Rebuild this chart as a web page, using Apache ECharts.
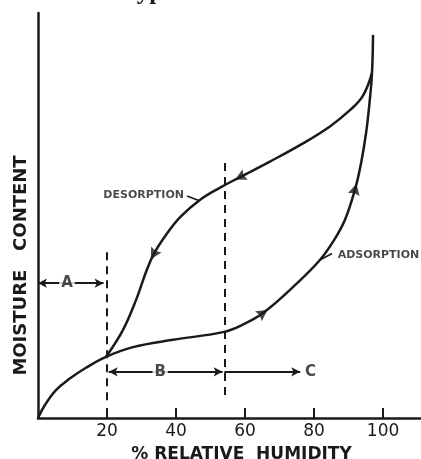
<!DOCTYPE html>
<html>
<head>
<meta charset="utf-8">
<script src="https://cdn.jsdelivr.net/npm/echarts@6/dist/echarts.min.js"></script>
<style>
  html, body { margin: 0; padding: 0; background: #fff; }
  #chart { width: 421px; height: 459px; }
</style>
</head>
<body>
<div id="chart"></div>
<script>
// Relative humidity (%) tick labels
const rhTicks = [20, 40, 60, 80, 100];

// Adsorption branch: relative humidity (%) and moisture content (relative units)
const adsorptionRH = [0, 2.0, 5.2, 9.0, 13.9, 19.7, 27.5, 39.1, 53.6, 59.0, 65.2, 75.1, 81.7, 85.8, 89.0, 91.9, 93.6, 95.1, 96.1, 96.8, 97.1];
const adsorptionMC = [0, 3.2, 6.9, 9.6, 12.4, 15.1, 17.5, 19.3, 21.2, 22.9, 25.9, 33.3, 39.0, 43.9, 49.0, 56.5, 62.8, 70.5, 78.0, 85.2, 94.6];

// Desorption branch
const desorptionRH = [96.8, 94.2, 90.4, 84.6, 76.8, 67.2, 58.6, 52.8, 47.0, 41.2, 37.1, 33.5, 31.2, 28.4, 24.6, 19.7];
const desorptionMC = [85.2, 79.6, 76.0, 72.0, 67.8, 63.3, 59.5, 56.9, 53.9, 49.6, 45.2, 40.4, 35.8, 29.1, 21.7, 15.1];

// Direction arrows along the loop: position and heading (degrees)
const arrowRH = [65.2, 91.9, 58.6, 33.5];
const arrowMC = [25.9, 56.5, 59.5, 40.4];
const arrowHeading = [34, 76, 207, 240];

// Region boundaries (dashed verticals) and bracket levels
const boundaryRH = [20, 54];
const boundaryTop = [42.2, 63.2];
const boundaryBottom = [4.4, 5.7];
const regionA = { from: 0, to: 19, level: 33.3 };
const regionB = { from: 20.5, to: 53.5, level: 11.4 };
const regionC = { from: 54, to: 76, level: 11.4 };
const regionLetters = ['A', 'B', 'C'];
const letterRH = [8.4, 35.4, 79.0];
const letterMC = [33.3, 11.4, 11.4];

// Curve captions
const captionText = ['DESORPTION', 'ADSORPTION'];
const captionRH = [18.8, 86.7];
const captionMC = [55.1, 40.2];
const leaderFrom = [[43.2, 54.8], [81.7, 39.0]];
const leaderTo = [[46.6, 53.7], [85.2, 40.6]];

const ink = '#1a1a1a';
const fontSans = 'DejaVu Sans, Liberation Sans, sans-serif';

const zip = (xs, ys) => xs.map((x, i) => [x, ys[i]]);

const chart = echarts.init(document.getElementById('chart'), null, { renderer: 'canvas' });

const bracketLine = (r, symbols) => [
  { coord: [r.from, r.level], symbol: symbols[0] },
  { coord: [r.to, r.level], symbol: symbols[1] }
];

const option = {
  animation: false,
  backgroundColor: '#fff',
  graphic: [{
    type: 'text',
    left: 122,
    top: -20,
    style: { text: 'Typical', font: 'bold 25px Liberation Serif, serif', fill: ink }
  }],
  grid: { left: 38, right: 0, top: 13, bottom: 41, containLabel: false, outerBoundsMode: 'none' },
  xAxis: {
    type: 'value',
    min: 0,
    max: 111,
    interval: 20,
    name: '% RELATIVE  HUMIDITY',
    nameLocation: 'middle',
    nameGap: 28,
    nameTextStyle: { color: ink, fontFamily: fontSans, fontWeight: 'bold', fontSize: 17, padding: [0, 0, 0, 24] },
    axisLine: { lineStyle: { color: ink, width: 2.5 } },
    axisTick: { inside: true, length: 10, lineStyle: { color: ink, width: 2 } },
    axisLabel: {
      margin: 5,
      showMinLabel: false,
      showMaxLabel: false,
      color: ink,
      fontFamily: fontSans,
      fontSize: 17,
      formatter: v => rhTicks.includes(v) ? String(v) : ''
    },
    splitLine: { show: false }
  },
  yAxis: {
    type: 'value',
    min: 0,
    max: 100,
    name: 'MOISTURE   CONTENT',
    nameLocation: 'middle',
    nameRotate: 90,
    nameGap: 8,
    nameTextStyle: { color: ink, fontFamily: fontSans, fontWeight: 'bold', fontSize: 18, padding: [0, 100, 0, 0] },
    axisLine: { show: true, lineStyle: { color: ink, width: 2.5 } },
    axisTick: { show: false },
    axisLabel: { show: false },
    splitLine: { show: false }
  },
  series: [
    {
      name: 'Adsorption',
      type: 'line',
      data: zip(adsorptionRH, adsorptionMC),
      smooth: 0.4,
      showSymbol: false,
      lineStyle: { color: ink, width: 2.5 }
    },
    {
      name: 'Desorption',
      type: 'line',
      data: zip(desorptionRH, desorptionMC),
      smooth: 0.4,
      showSymbol: false,
      lineStyle: { color: ink, width: 2.5 }
    },
    {
      name: 'Direction',
      type: 'scatter',
      data: arrowRH.map((x, i) => ({ value: [x, arrowMC[i]], symbolRotate: arrowHeading[i] })),
      symbol: 'path://M0,0 L10,5 L0,10 L1.5,5 Z',
      symbolSize: [11, 12],
      itemStyle: { color: ink }
    },
    {
      name: 'Boundaries',
      type: 'line',
      data: [],
      markLine: {
        silent: true,
        symbol: ['none', 'none'],
        lineStyle: { color: ink, width: 2, type: [8, 6] },
        label: { show: false },
        data: boundaryRH.map((x, i) => [
          { coord: [x, boundaryBottom[i]] },
          { coord: [x, boundaryTop[i]] }
        ])
      }
    },
    {
      name: 'Regions',
      type: 'line',
      data: [],
      markLine: {
        silent: true,
        symbolSize: [7, 9],
        lineStyle: { color: ink, width: 1.8, type: 'solid' },
        label: { show: false },
        data: [
          bracketLine(regionA, ['arrow', 'arrow']),
          bracketLine(regionB, ['arrow', 'arrow']),
          bracketLine(regionC, ['none', 'arrow'])
        ]
      }
    },
    {
      name: 'Leaders',
      type: 'line',
      data: [],
      markLine: {
        silent: true,
        symbol: ['none', 'none'],
        lineStyle: { color: ink, width: 1.6, type: 'solid' },
        label: { show: false },
        data: leaderFrom.map((p, i) => [{ coord: p }, { coord: leaderTo[i] }])
      }
    },
    {
      name: 'Region letters',
      type: 'scatter',
      symbol: 'circle',
      symbolSize: 1,
      itemStyle: { color: 'rgba(0,0,0,0)' },
      z: 5,
      data: letterRH.map((x, i) => ({ value: [x, letterMC[i]], name: regionLetters[i] })),
      label: {
        show: true,
        position: 'inside',
        formatter: p => p.name,
        color: ink,
        fontFamily: fontSans,
        fontWeight: 'bold',
        fontSize: 15,
        backgroundColor: '#fff',
        padding: [0, 2]
      }
    },
    {
      name: 'Captions',
      type: 'scatter',
      symbol: 'circle',
      symbolSize: 1,
      itemStyle: { color: 'rgba(0,0,0,0)' },
      data: captionRH.map((x, i) => ({ value: [x, captionMC[i]], name: captionText[i] })),
      label: {
        show: true,
        position: 'right',
        distance: 0,
        formatter: p => p.name,
        color: ink,
        fontFamily: fontSans,
        fontWeight: 'bold',
        fontSize: 11
      }
    }
  ]
};

chart.setOption(option);
</script>
</body>
</html>
